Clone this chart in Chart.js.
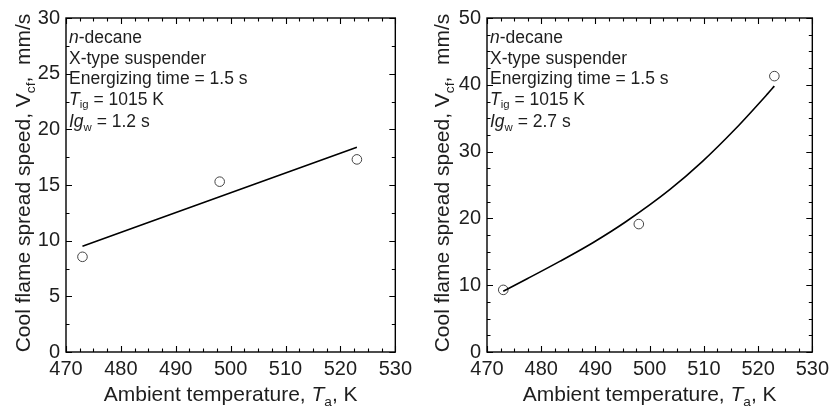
<!DOCTYPE html>
<html>
<head>
<meta charset="utf-8">
<script src="https://cdn.jsdelivr.net/npm/chart.js@4.4.1/dist/chart.umd.min.js"></script>
<style>
  html, body { margin: 0; padding: 0; background: #fff; }
  #wrap { position: relative; width: 834px; height: 411px; }
  canvas { position: absolute; top: 0; }
</style>
</head>
<body>
<div id="wrap">
  <canvas id="c1" width="417" height="411" style="left:0px"></canvas>
  <canvas id="c2" width="417" height="411" style="left:417px"></canvas>
</div>
<script>
// ---------------- data ----------------
const temps = [473, 498, 523];                 // ambient temperature, K
const speedLeft = [8.55, 15.3, 17.3];          // Ig_w = 1.2 s, mm/s
const speedRight = [9.3, 19.15, 41.3];         // Ig_w = 2.7 s, mm/s

const fitLeftT = [473, 523];
const fitLeftV = [9.5, 18.4];

const fitRightT = [473, 477.5, 483.5, 489.6, 495.6, 503.7, 509.7, 515.7, 521.7, 523];
const fitRightV = [9.1, 11.0, 13.6, 16.4, 19.5, 24.3, 28.5, 33.3, 38.6, 39.8];

const xTickRange = [470, 530];
const yRangeLeft = [0, 30];
const yRangeRight = [0, 50];

const notesLeftLast = "Ig_w = 1.2 s";
const notesRightLast = "Ig_w = 2.7 s";

// ---------------- helpers ----------------
const FONT = "'Liberation Sans', Arial, sans-serif";
const TXT = '#1e1e1e';

function font(size, italic) { return (italic ? 'italic ' : '') + size + 'px ' + FONT; }

function richWidth(ctx, segs, size) {
  let w = 0;
  for (const s of segs) {
    const fs = s.sub ? size * 0.65 : size;
    ctx.font = font(fs, s.it);
    w += ctx.measureText(s.t).width;
  }
  return w;
}
function drawRich(ctx, segs, x, y, size, align) {
  let w = richWidth(ctx, segs, size);
  let cx = align === 'center' ? x - w / 2 : x;
  ctx.textBaseline = 'alphabetic';
  ctx.textAlign = 'left';
  for (const s of segs) {
    const fs = s.sub ? size * 0.65 : size;
    ctx.font = font(fs, s.it);
    ctx.fillText(s.t, cx, s.sub ? y + size * 0.22 : y);
    cx += ctx.measureText(s.t).width;
  }
}

const xTitle = [{t: 'Ambient temperature, '}, {t: 'T', it: true}, {t: 'a', sub: true}, {t: ', K'}];
const yTitle = [{t: 'Cool flame spread speed, V'}, {t: 'cf', sub: true}, {t: ',  mm/s'}];
function notesSegs(last) {
  return [
    [{t: 'n', it: true}, {t: '-decane'}],
    [{t: 'X-type suspender'}],
    [{t: 'Energizing time = 1.5 s'}],
    [{t: 'T', it: true}, {t: 'ig', sub: true}, {t: ' = 1015 K'}],
    [{t: 'Ig', it: true}, {t: 'w', sub: true}, {t: last.slice(4)}]
  ];
}

const deco = {
  id: 'deco',
  afterDraw(chart, args, opts) {
    const ctx = chart.ctx;
    const a = chart.chartArea;
    const x = chart.scales.x, y = chart.scales.y;
    ctx.save();
    ctx.strokeStyle = '#000';
    ctx.lineWidth = 1.4;
    ctx.strokeRect(a.left, a.top, a.right - a.left, a.bottom - a.top);
    ctx.lineWidth = 1.1;
    ctx.beginPath();
    // x ticks (inward, top & bottom)
    for (let v = x.min; v <= x.max + 1e-9; v += 2.5) {
      const px = Math.round(x.getPixelForValue(v)) + 0.5;
      const major = Math.abs(v / 10 - Math.round(v / 10)) < 1e-6;
      const L = major ? 6 : 3.5;
      ctx.moveTo(px, a.bottom); ctx.lineTo(px, a.bottom - L);
      ctx.moveTo(px, a.top); ctx.lineTo(px, a.top + L);
    }
    // y ticks
    for (let v = y.min; v <= y.max + 1e-9; v += opts.yMinor) {
      const py = Math.round(y.getPixelForValue(v)) + 0.5;
      const major = Math.abs(v / opts.yMajor - Math.round(v / opts.yMajor)) < 1e-6;
      const L = major ? 6 : 3.5;
      ctx.moveTo(a.left, py); ctx.lineTo(a.left + L, py);
      ctx.moveTo(a.right, py); ctx.lineTo(a.right - L, py);
    }
    ctx.stroke();

    ctx.fillStyle = TXT;
    // x title
    drawRich(ctx, xTitle, (a.left + a.right) / 2, 401, 21, 'center');
    // y title
    ctx.save();
    ctx.translate(opts.yTitleX, (a.top + a.bottom) / 2 - 2);
    ctx.rotate(-Math.PI / 2);
    drawRich(ctx, yTitle, 0, 0, 21, 'center');
    ctx.restore();
    // notes
    const base = [42.5, 63.5, 84, 104.5, 127];
    const segs = notesSegs(opts.last);
    segs.forEach((s, i) => drawRich(ctx, s, a.left + 3, base[i], 17.5, 'left'));
    ctx.restore();
  }
};

function makeChart(id, ptsV, fitT, fitV, yr, yStep, yMinor, yAxisW, padRight, yTitleX, last) {
  const pts = temps.map((t, i) => ({x: t, y: ptsV[i]}));
  const fit = fitT.map((t, i) => ({x: t, y: fitV[i]}));
  return new Chart(document.getElementById(id), {
    type: 'scatter',
    data: {
      datasets: [
        {data: fit, showLine: true, borderColor: '#000', borderWidth: 1.6, pointRadius: 0,
         cubicInterpolationMode: 'monotone', fill: false},
        {data: pts, showLine: false, pointRadius: 4.8, pointBorderWidth: 1,
         pointBorderColor: '#444', pointBackgroundColor: 'rgba(255,255,255,0)'}
      ]
    },
    options: {
      responsive: false,
      devicePixelRatio: 1,
      animation: false,
      layout: {padding: {top: 17, right: padRight, left: 0, bottom: 0}},
      plugins: {
        legend: {display: false},
        tooltip: {enabled: false},
        deco: {yMinor: yMinor, yMajor: yStep, yTitleX: yTitleX, last: last}
      },
      scales: {
        x: {
          type: 'linear', min: xTickRange[0], max: xTickRange[1],
          grid: {display: false, drawTicks: false}, border: {display: false},
          ticks: {stepSize: 10, padding: 5, color: TXT, font: {family: FONT, size: 20}, maxRotation: 0},
          afterFit: s => { s.height = 59; }
        },
        y: {
          type: 'linear', min: yr[0], max: yr[1],
          grid: {display: false, drawTicks: false}, border: {display: false},
          ticks: {stepSize: yStep, padding: 6, color: TXT, font: {family: FONT, size: 20}},
          afterFit: s => { s.width = yAxisW; }
        }
      }
    },
    plugins: [deco]
  });
}

makeChart('c1', speedLeft, fitLeftT, fitLeftV, yRangeLeft, 5, 2.5, 66, 19, 30, notesLeftLast);
makeChart('c2', speedRight, fitRightT, fitRightV, yRangeRight, 10, 2.5, 70, 15, 32, notesRightLast);
</script>
</body>
</html>
